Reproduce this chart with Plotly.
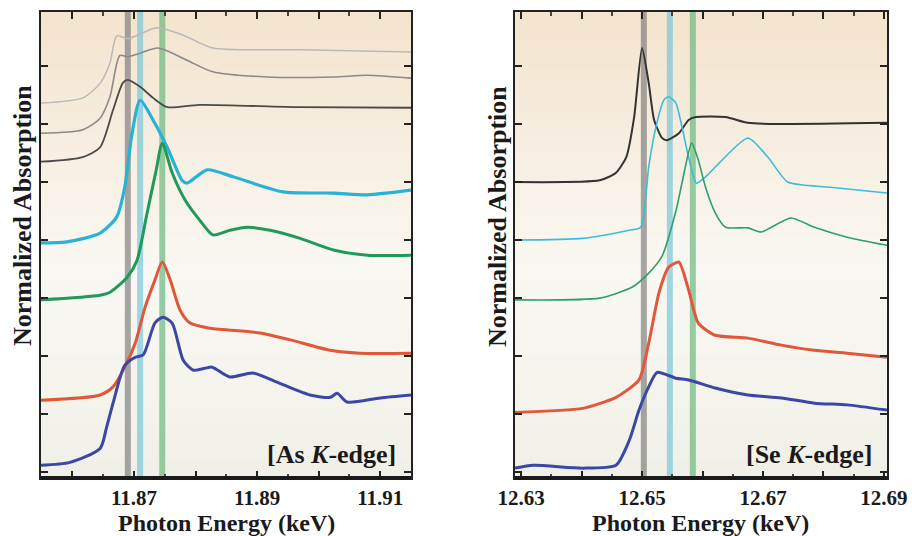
import plotly.graph_objects as go

# ---------------- data: As K-edge (left panel) ----------------
as_light_E = [11.8549, 11.8617, 11.8645, 11.8661, 11.8672, 11.8690, 11.8737, 11.8780, 11.8828, 11.8970, 11.9150]
as_light_y = [6.36, 6.45, 6.70, 7.05, 7.52, 7.47, 7.66, 7.53, 7.31, 7.28, 7.24]

as_mid_E = [11.8549, 11.8617, 11.8645, 11.8661, 11.8677, 11.8690, 11.8710, 11.8739, 11.8786, 11.8828, 11.8916, 11.9024, 11.9079, 11.9150]
as_mid_y = [5.84, 5.90, 6.10, 6.47, 7.18, 7.16, 7.22, 7.31, 7.10, 6.90, 6.81, 6.81, 6.84, 6.79]

as_dark_E = [11.8549, 11.8617, 11.8645, 11.8666, 11.8682, 11.8690, 11.8710, 11.8731, 11.8754, 11.8807, 11.8970, 11.9150]
as_dark_y = [5.35, 5.43, 5.60, 6.24, 6.71, 6.76, 6.64, 6.45, 6.29, 6.33, 6.29, 6.28]

as_cyan_E = [11.8549, 11.8591, 11.8645, 11.8672, 11.8685, 11.8697, 11.8710, 11.8731, 11.8754, 11.8778, 11.8786, 11.8819, 11.8861, 11.8942, 11.9024, 11.9079, 11.9150]
as_cyan_y = [3.95, 3.97, 4.12, 4.40, 4.91, 5.84, 6.41, 6.07, 5.60, 5.03, 4.98, 5.21, 5.09, 4.83, 4.81, 4.78, 4.86]

as_green_E = [11.8549, 11.8645, 11.8661, 11.8689, 11.8705, 11.8721, 11.8736, 11.8746, 11.8762, 11.8783, 11.8807, 11.8828, 11.8856, 11.8884, 11.8921, 11.8970, 11.9024, 11.9079, 11.9150]
as_green_y = [2.97, 3.05, 3.10, 3.36, 3.65, 4.45, 5.20, 5.67, 5.16, 4.69, 4.34, 4.09, 4.17, 4.22, 4.17, 4.03, 3.83, 3.74, 3.74]

as_red_E = [11.8549, 11.8645, 11.8666, 11.8685, 11.8702, 11.8718, 11.8734, 11.8746, 11.8759, 11.8775, 11.8791, 11.8824, 11.8905, 11.8954, 11.9019, 11.9067, 11.9150]
as_red_y = [1.24, 1.33, 1.47, 1.81, 2.22, 2.84, 3.31, 3.62, 3.31, 2.79, 2.57, 2.48, 2.40, 2.28, 2.10, 2.05, 2.05]

as_blue_E = [11.8549, 11.8596, 11.8645, 11.8655, 11.8666, 11.8685, 11.8702, 11.8715, 11.8734, 11.8747, 11.8762, 11.8780, 11.8796, 11.8815, 11.8827, 11.8856, 11.8893, 11.8937, 11.8986, 11.9019, 11.9030, 11.9046, 11.9100, 11.9150]
as_blue_y = [0.12, 0.17, 0.41, 0.75, 1.19, 1.84, 1.98, 2.02, 2.57, 2.67, 2.57, 1.93, 1.76, 1.79, 1.81, 1.64, 1.71, 1.53, 1.33, 1.29, 1.36, 1.21, 1.28, 1.33]

as_band_E = [11.8690, 11.8710, 11.8746]

# ---------------- data: Se K-edge (right panel) ----------------
se_black_E = [12.6290, 12.6430, 12.6457, 12.6474, 12.6487, 12.6500, 12.6511, 12.6520, 12.6533, 12.6541, 12.6561, 12.6577, 12.6589, 12.6638, 12.6675, 12.6730, 12.6905]
se_black_y = [5.00, 5.03, 5.16, 5.43, 6.12, 7.31, 6.71, 6.07, 5.76, 5.72, 5.84, 6.07, 6.12, 6.12, 6.02, 6.00, 6.02]

se_cyan_E = [12.6290, 12.6402, 12.6479, 12.6498, 12.6511, 12.6523, 12.6536, 12.6544, 12.6556, 12.6566, 12.6577, 12.6590, 12.6605, 12.6675, 12.6708, 12.6741, 12.6811, 12.6905]
se_cyan_y = [4.00, 4.03, 4.17, 4.22, 5.26, 5.95, 6.41, 6.47, 6.36, 5.95, 5.43, 4.98, 5.09, 5.76, 5.43, 5.00, 4.91, 4.81]

se_green_E = [12.6290, 12.6430, 12.6484, 12.6511, 12.6533, 12.6556, 12.6566, 12.6582, 12.6593, 12.6605, 12.6621, 12.6638, 12.6675, 12.6697, 12.6746, 12.6785, 12.6839, 12.6905]
se_green_y = [2.97, 3.00, 3.19, 3.43, 3.72, 4.50, 4.98, 5.67, 5.38, 4.91, 4.47, 4.22, 4.21, 4.14, 4.38, 4.22, 4.05, 3.91]

se_red_E = [12.6290, 12.6402, 12.6457, 12.6495, 12.6511, 12.6528, 12.6544, 12.6561, 12.6577, 12.6593, 12.6621, 12.6675, 12.6730, 12.6785, 12.6839, 12.6905]
se_red_y = [1.03, 1.10, 1.29, 1.59, 2.22, 3.09, 3.53, 3.62, 3.14, 2.57, 2.36, 2.31, 2.19, 2.10, 2.05, 1.98]

se_blue_E = [12.6290, 12.6320, 12.6402, 12.6457, 12.6479, 12.6495, 12.6511, 12.6525, 12.6556, 12.6577, 12.6621, 12.6675, 12.6730, 12.6785, 12.6839, 12.6905]
se_blue_y = [0.07, 0.12, 0.07, 0.12, 0.55, 1.07, 1.47, 1.72, 1.62, 1.59, 1.45, 1.33, 1.28, 1.19, 1.16, 1.07]

se_band_E = [12.6503, 12.6546, 12.6584]

# ---------------- ticks ----------------
as_tickvals = [11.86, 11.87, 11.88, 11.89, 11.90, 11.91]
as_ticktext = ["", "11.87", "", "11.89", "", "11.91"]
se_tickvals = [12.63, 12.64, 12.65, 12.66, 12.67, 12.68, 12.69]
se_ticktext = ["12.63", "", "12.65", "", "12.67", "", "12.69"]
y_tickvals = [0, 1, 2, 3, 4, 5, 6, 7]

panel_labels = ["[As <i>K</i>-edge]", "[Se <i>K</i>-edge]"]
x_title = "Photon Energy (keV)"
y_title = "Normalized Absorption"

SERIF = "Liberation Serif"
fig = go.Figure()

def add_line(E, y, color, width, xa, ya, smooth=0.7):
    fig.add_trace(go.Scatter(x=E, y=y, mode="lines", xaxis=xa, yaxis=ya,
                             line=dict(color=color, width=width, shape="spline", smoothing=smooth),
                             hoverinfo="skip", showlegend=False))

# left panel
add_line(as_light_E, as_light_y, "#b9b9b9", 1.5, "x", "y")
add_line(as_mid_E, as_mid_y, "#8a8a8a", 1.6, "x", "y")
add_line(as_dark_E, as_dark_y, "#4a4a4a", 1.8, "x", "y")
add_line(as_cyan_E, as_cyan_y, "#27b3d6", 3.2, "x", "y")
add_line(as_green_E, as_green_y, "#1f9a5a", 3.0, "x", "y")
add_line(as_red_E, as_red_y, "#e0583a", 3.0, "x", "y")
add_line(as_blue_E, as_blue_y, "#3b47a3", 3.0, "x", "y")

# right panel
add_line(se_black_E, se_black_y, "#333333", 2.0, "x2", "y2", 0.6)
add_line(se_cyan_E, se_cyan_y, "#3bbcd8", 1.6, "x2", "y2", 0.6)
add_line(se_green_E, se_green_y, "#2e9e6a", 1.6, "x2", "y2", 0.6)
add_line(se_red_E, se_red_y, "#e0583a", 3.0, "x2", "y2", 0.6)
add_line(se_blue_E, se_blue_y, "#3b47a3", 3.0, "x2", "y2", 0.6)

# background gradient strips
def lerp(c1, c2, t):
    return tuple(int(round(a + (b - a) * t)) for a, b in zip(c1, c2))

top_c = (243, 228, 205)
mid_c = (250, 248, 243)
bot_c = (240, 240, 232)
shapes = []
N = 50
for xd, yd in (("x domain", "y domain"), ("x2 domain", "y2 domain")):
    for i in range(N):
        t = i / (N - 1)  # 0 bottom, 1 top
        if t < 0.45:
            c = lerp(bot_c, mid_c, t / 0.45)
        else:
            c = lerp(mid_c, top_c, (t - 0.45) / 0.55)
        shapes.append(dict(type="rect", xref=xd, yref=yd, x0=0, x1=1,
                           y0=i / N, y1=(i + 1) / N + 0.002, line=dict(width=0),
                           fillcolor="rgb(%d,%d,%d)" % c, layer="below"))

band_colors = ["rgba(120,120,120,0.65)", "rgba(110,195,215,0.65)", "rgba(95,180,120,0.65)"]
for xr, yd, bands in (("x", "y domain", as_band_E), ("x2", "y2 domain", se_band_E)):
    for e, col in zip(bands, band_colors):
        shapes.append(dict(type="line", xref=xr, yref=yd, x0=e, x1=e, y0=0, y1=1,
                           line=dict(color=col, width=6), layer="below"))
    xd = xr + " domain"
    shapes.append(dict(type="line", xref=xd, yref=yd, x0=0, x1=1, y0=0, y1=0,
                       line=dict(color="#1a1a1a", width=4)))

xdom1 = [41 / 912, 411 / 912]
xdom2 = [515 / 912, 887 / 912]
ydom = [1 - 478 / 536, 1 - 12 / 536]

tickfont = dict(family=SERIF, size=21, color="#1a1a1a", weight=700)
common_x = dict(showline=True, linecolor="#222", linewidth=2, mirror="allticks",
                ticks="inside", ticklen=7, tickwidth=1.5, tickcolor="#222",
                showgrid=False, zeroline=False, tickfont=tickfont, automargin=False,
                minor=dict(ticks="inside", ticklen=4, tickcolor="#444", dtick=0.005))
common_y = dict(showline=True, linecolor="#222", linewidth=2, mirror="allticks",
                ticks="inside", ticklen=7, tickwidth=1.5, tickcolor="#222",
                showgrid=False, zeroline=False, showticklabels=False, automargin=False,
                tickvals=y_tickvals, range=[-0.10, 7.93])

annotations = []
for xc in (226 / 912, 700 / 912):
    annotations.append(dict(xref="paper", yref="paper", x=xc, y=1 - 523 / 536, text="<b>%s</b>" % x_title,
                            showarrow=False, font=dict(family=SERIF, size=24, color="#1a1a1a"),
                            xanchor="center", yanchor="middle"))
for xc in (22 / 912, 497 / 912):
    annotations.append(dict(xref="paper", yref="paper", x=xc, y=1 - 216 / 536, text="<b>%s</b>" % y_title,
                            textangle=-90, showarrow=False,
                            font=dict(family=SERIF, size=26, color="#1a1a1a"),
                            xanchor="center", yanchor="middle"))
annotations.append(dict(xref="x domain", yref="y domain", x=0.965, y=0.05, text="<b>%s</b>" % panel_labels[0],
                        showarrow=False, font=dict(family=SERIF, size=26, color="#1a1a1a"),
                        xanchor="right", yanchor="middle"))
annotations.append(dict(xref="x2 domain", yref="y2 domain", x=0.965, y=0.05, text="<b>%s</b>" % panel_labels[1],
                        showarrow=False, font=dict(family=SERIF, size=26, color="#1a1a1a"),
                        xanchor="right", yanchor="middle"))

fig.update_layout(
    width=912, height=536, margin=dict(l=0, r=0, t=0, b=0, autoexpand=False),
    paper_bgcolor="white", plot_bgcolor="rgba(0,0,0,0)",
    xaxis=dict(domain=xdom1, range=[11.8549, 11.9150], tickvals=as_tickvals, ticktext=as_ticktext,
               anchor="y", **common_x),
    yaxis=dict(domain=ydom, anchor="x", **common_y),
    xaxis2=dict(domain=xdom2, range=[12.6290, 12.6905], tickvals=se_tickvals, ticktext=se_ticktext,
                anchor="y2", **common_x),
    yaxis2=dict(domain=ydom, anchor="x2", **common_y),
    shapes=shapes, annotations=annotations,
)

fig.write_html("out.html")
